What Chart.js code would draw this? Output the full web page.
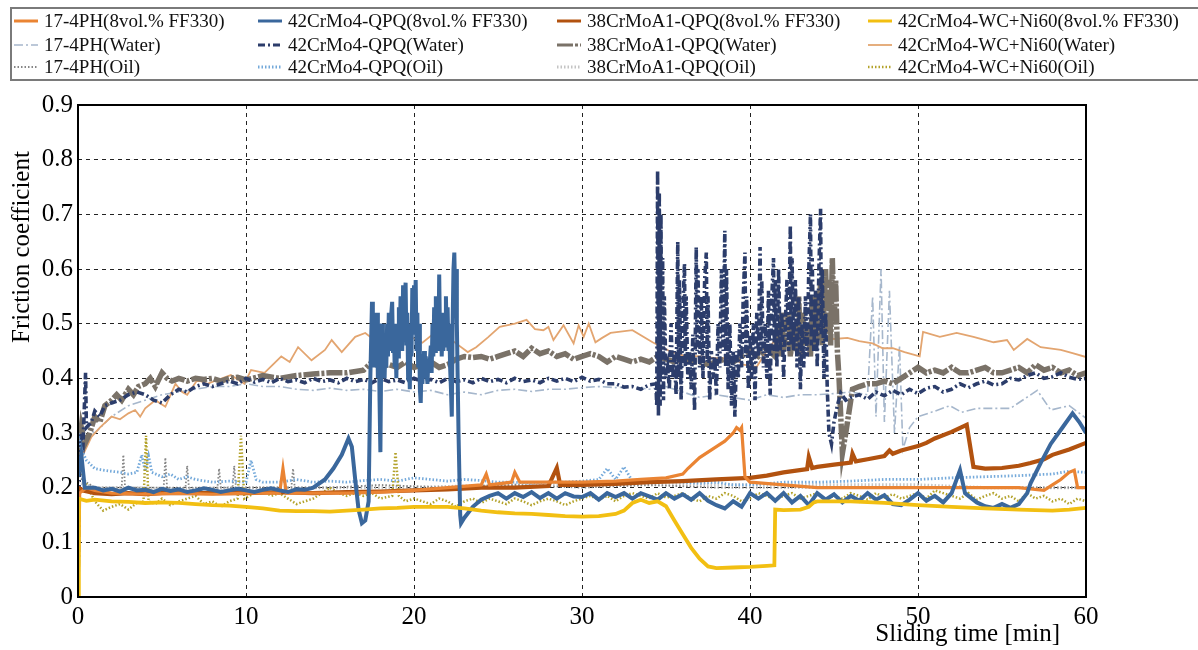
<!DOCTYPE html>
<html>
<head>
<meta charset="utf-8">
<script src="https://cdn.jsdelivr.net/npm/chart.js@4.4.1/dist/chart.umd.min.js"></script>
<style>
  html, body { margin: 0; padding: 0; background: #fff; }
  #wrap { width: 1198px; height: 650px; }
</style>
</head>
<body>
<div id="wrap"><canvas id="friction" width="1198" height="650"></canvas></div>
<script>
// Data: [sliding time (min), friction coefficient]
var ph17Ff330 = [[0,0],[0.1,0.19],[0.5,0.2],[1,0.195],[2,0.19],[4,0.188],[6,0.19],[8,0.188],[10,0.19],[12,0.19],[12.2,0.235],[12.4,0.19],[14,0.19],[16,0.19],[18,0.192],[20,0.195],[22,0.2],[24,0.205],[24.3,0.225],[24.5,0.205],[25.8,0.21],[26,0.228],[26.3,0.21],[28,0.21],[30,0.21],[32,0.212],[33.5,0.215],[35,0.218],[36,0.225],[36.3,0.235],[37,0.255],[38,0.275],[38.5,0.285],[39,0.3],[39.2,0.31],[39.4,0.305],[39.5,0.31],[39.7,0.22],[40,0.21],[42,0.205],[44,0.2],[48,0.2],[52,0.2],[56,0.2],[57.5,0.195],[58,0.205],[58.5,0.215],[59,0.228],[59.3,0.232],[59.5,0.2],[60,0.2]];
var ph17Water = [[0,0.3],[0.5,0.31],[1,0.3],[2,0.33],[3,0.35],[4,0.36],[5,0.37],[6,0.375],[7,0.38],[8,0.385],[9,0.385],[10,0.39],[11,0.385],[12,0.385],[13,0.38],[14,0.378],[15,0.382],[16,0.378],[17,0.38],[18,0.376],[19,0.38],[20,0.375],[21,0.378],[22,0.37],[23,0.375],[24,0.37],[25,0.378],[26,0.38],[27,0.376],[28,0.38],[29,0.38],[30,0.383],[31,0.385],[32,0.383],[33,0.385],[34,0.38],[35,0.385],[36,0.375],[37,0.365],[38,0.37],[39,0.365],[40,0.36],[41,0.37],[42,0.365],[43,0.37],[44,0.37],[45,0.372],[46,0.375],[47,0.37],[47.3,0.55],[47.5,0.33],[47.8,0.6],[48,0.32],[48.3,0.56],[48.6,0.3],[48.9,0.46],[49.1,0.27],[49.5,0.31],[50,0.33],[51,0.34],[51.9,0.35],[52.6,0.338],[53.5,0.345],[55.5,0.345],[57.1,0.378],[57.9,0.342],[59,0.35],[60,0.327]];
var ph17Oil = [[0,0.22],[0.5,0.21],[1,0.2],[2,0.2],[2.6,0.2],[2.7,0.26],[2.8,0.2],[4,0.2],[5.1,0.2],[5.2,0.255],[5.3,0.2],[6.4,0.2],[6.5,0.24],[6.6,0.2],[8.3,0.2],[8.4,0.235],[8.5,0.2],[9.2,0.2],[9.3,0.24],[9.4,0.2],[12.7,0.2],[12.8,0.235],[12.9,0.2],[15,0.2],[18,0.205],[22,0.2],[26,0.205],[30,0.2],[34,0.205],[38,0.2],[42,0.2],[46,0.2],[50,0.2],[54,0.2],[58,0.2],[60,0.2]];
var qpq42Ff330 = [[0,0.22],[0.2,0.26],[0.4,0.2],[1,0.2],[1.5,0.195],[2,0.198],[2.5,0.193],[3,0.2],[3.5,0.195],[4,0.196],[4.5,0.192],[5,0.198],[5.5,0.194],[6,0.197],[6.5,0.192],[7,0.195],[7.5,0.199],[8,0.196],[8.5,0.192],[9,0.195],[9.5,0.198],[10,0.195],[10.5,0.192],[11,0.196],[11.5,0.199],[12,0.195],[12.5,0.192],[13,0.197],[13.5,0.196],[14,0.2],[14.7,0.215],[15.2,0.235],[15.7,0.26],[16.1,0.29],[16.3,0.275],[16.5,0.215],[16.7,0.16],[16.9,0.135],[17.1,0.14],[17.3,0.175],[17.4,0.4],[17.5,0.54],[17.55,0.45],[17.6,0.52],[17.65,0.42],[17.7,0.51],[17.75,0.48],[17.8,0.52],[17.85,0.4],[17.9,0.5],[17.95,0.36],[18,0.265],[18.05,0.45],[18.1,0.5],[18.15,0.42],[18.2,0.48],[18.25,0.4],[18.3,0.47],[18.35,0.42],[18.4,0.5],[18.45,0.44],[18.5,0.52],[18.55,0.45],[18.6,0.5],[18.7,0.54],[18.75,0.45],[18.8,0.5],[18.85,0.42],[18.9,0.48],[18.95,0.4],[19,0.5],[19.05,0.44],[19.1,0.53],[19.15,0.46],[19.2,0.55],[19.3,0.45],[19.35,0.57],[19.4,0.5],[19.5,0.575],[19.55,0.46],[19.6,0.52],[19.65,0.4],[19.7,0.45],[19.75,0.38],[19.8,0.5],[19.85,0.44],[19.9,0.565],[19.95,0.48],[20,0.57],[20.05,0.5],[20.1,0.58],[20.15,0.45],[20.2,0.52],[20.25,0.42],[20.3,0.5],[20.35,0.38],[20.4,0.355],[20.45,0.43],[20.5,0.39],[20.6,0.45],[20.65,0.4],[20.7,0.44],[20.8,0.39],[20.85,0.43],[20.9,0.41],[21,0.46],[21.05,0.41],[21.1,0.5],[21.15,0.44],[21.2,0.53],[21.25,0.45],[21.3,0.55],[21.35,0.46],[21.4,0.52],[21.45,0.45],[21.5,0.59],[21.55,0.47],[21.6,0.52],[21.65,0.44],[21.7,0.5],[21.75,0.45],[21.8,0.52],[21.85,0.46],[21.9,0.55],[21.95,0.47],[22,0.53],[22.05,0.45],[22.1,0.5],[22.15,0.42],[22.2,0.38],[22.25,0.33],[22.3,0.5],[22.35,0.6],[22.4,0.63],[22.45,0.55],[22.5,0.6],[22.55,0.5],[22.6,0.4],[22.65,0.3],[22.75,0.15],[22.8,0.135],[23,0.145],[23.5,0.165],[24,0.178],[24.5,0.185],[25,0.19],[25.5,0.18],[26,0.19],[26.5,0.183],[27,0.192],[27.5,0.181],[28,0.19],[28.5,0.18],[29,0.19],[29.5,0.184],[30,0.183],[30.5,0.19],[31,0.178],[31.5,0.19],[32,0.183],[32.5,0.19],[33,0.18],[33.5,0.19],[34,0.184],[34.5,0.178],[35,0.19],[35.5,0.18],[36,0.188],[36.5,0.178],[37,0.19],[37.5,0.176],[38,0.168],[38.5,0.162],[39,0.175],[39.5,0.165],[40,0.19],[40.5,0.18],[41,0.19],[41.5,0.176],[42,0.19],[42.5,0.173],[43,0.185],[43.5,0.168],[44,0.19],[44.5,0.178],[45,0.188],[45.5,0.173],[46,0.185],[46.5,0.176],[47,0.19],[47.5,0.178],[48,0.186],[48.5,0.17],[49,0.168],[49.5,0.178],[50,0.19],[50.5,0.176],[51,0.185],[51.5,0.173],[52,0.19],[52.5,0.232],[52.8,0.19],[53,0.185],[53.5,0.173],[54,0.166],[54.5,0.163],[55,0.17],[55.5,0.163],[56,0.17],[56.5,0.19],[56.7,0.208],[57.3,0.245],[57.9,0.28],[58.6,0.31],[59.2,0.336],[59.6,0.32],[60,0.3]];
var qpq42Water = [[0,0],[0.1,0.3],[0.3,0.28],[0.45,0.41],[0.5,0.31],[0.8,0.32],[1,0.34],[1.3,0.33],[1.6,0.35],[2,0.355],[2.5,0.36],[3,0.37],[3.5,0.375],[4,0.37],[4.5,0.36],[5,0.355],[5.5,0.37],[6,0.38],[6.5,0.375],[7,0.385],[7.5,0.39],[8,0.385],[8.5,0.39],[9,0.395],[9.5,0.39],[10,0.4],[10.5,0.393],[11,0.398],[11.5,0.392],[12,0.4],[12.5,0.394],[13,0.397],[13.5,0.392],[14,0.4],[14.5,0.394],[15,0.397],[15.5,0.392],[16,0.4],[16.5,0.394],[17,0.398],[17.5,0.392],[18,0.4],[18.5,0.394],[19,0.397],[19.5,0.392],[20,0.4],[20.5,0.394],[21,0.398],[21.5,0.392],[22,0.4],[22.5,0.394],[23,0.397],[23.5,0.392],[24,0.4],[24.5,0.394],[25,0.398],[25.5,0.392],[26,0.4],[26.5,0.394],[27,0.397],[27.5,0.392],[28,0.4],[28.5,0.395],[29,0.4],[29.5,0.394],[30,0.402],[30.5,0.395],[31,0.398],[31.5,0.39],[32,0.39],[32.5,0.384],[33,0.385],[33.5,0.38],[34,0.388],[34.4,0.39],[34.45,0.35],[34.5,0.78],[34.55,0.33],[34.6,0.74],[34.65,0.35],[34.7,0.7],[34.75,0.4],[34.8,0.62],[34.85,0.36],[34.9,0.55],[35,0.4],[35.1,0.42],[35.2,0.38],[35.3,0.5],[35.4,0.4],[35.5,0.45],[35.6,0.37],[35.7,0.65],[35.75,0.4],[35.8,0.58],[35.9,0.36],[36,0.52],[36.1,0.61],[36.15,0.42],[36.2,0.55],[36.3,0.4],[36.4,0.45],[36.5,0.38],[36.6,0.48],[36.7,0.34],[36.8,0.64],[36.85,0.45],[36.9,0.6],[37,0.42],[37.1,0.55],[37.2,0.4],[37.3,0.58],[37.4,0.63],[37.45,0.43],[37.5,0.55],[37.6,0.36],[37.7,0.45],[37.8,0.4],[37.9,0.44],[38,0.37],[38.1,0.5],[38.2,0.42],[38.3,0.6],[38.4,0.45],[38.5,0.67],[38.55,0.42],[38.6,0.6],[38.7,0.38],[38.8,0.5],[38.9,0.35],[39,0.45],[39.1,0.33],[39.2,0.45],[39.3,0.4],[39.4,0.5],[39.5,0.42],[39.6,0.55],[39.7,0.63],[39.75,0.44],[39.8,0.55],[39.9,0.38],[40,0.48],[40.1,0.4],[40.2,0.5],[40.3,0.36],[40.4,0.52],[40.5,0.44],[40.6,0.64],[40.65,0.45],[40.7,0.58],[40.8,0.42],[40.9,0.5],[41,0.4],[41.1,0.56],[41.2,0.37],[41.3,0.55],[41.4,0.62],[41.45,0.45],[41.5,0.58],[41.6,0.42],[41.7,0.6],[41.8,0.45],[41.9,0.52],[42,0.4],[42.1,0.5],[42.2,0.58],[42.3,0.45],[42.4,0.68],[42.45,0.46],[42.5,0.62],[42.6,0.45],[42.7,0.58],[42.8,0.42],[42.9,0.55],[43,0.38],[43.1,0.5],[43.2,0.42],[43.3,0.55],[43.4,0.44],[43.5,0.6],[43.6,0.7],[43.65,0.46],[43.7,0.62],[43.8,0.45],[43.9,0.56],[44,0.42],[44.1,0.6],[44.2,0.71],[44.25,0.48],[44.3,0.6],[44.4,0.4],[44.5,0.52],[44.55,0.45],[44.6,0.38],[44.7,0.3],[44.85,0.28],[45,0.32],[45.2,0.35],[45.4,0.373],[45.7,0.36],[46,0.365],[46.5,0.37],[47,0.362],[47.5,0.375],[48,0.368],[48.5,0.378],[49,0.37],[49.5,0.38],[50,0.372],[50.5,0.382],[51,0.385],[51.5,0.375],[52,0.38],[52.5,0.39],[53,0.383],[53.5,0.39],[54,0.395],[54.5,0.388],[55,0.39],[55.5,0.4],[56,0.397],[56.5,0.405],[57,0.41],[57.5,0.4],[58,0.403],[58.5,0.41],[59,0.402],[59.5,0.398],[60,0.4]];
var qpq42Oil = [[0,0.3],[0.2,0.27],[0.5,0.25],[1,0.235],[1.5,0.232],[2,0.23],[2.5,0.228],[3,0.225],[3.5,0.228],[3.8,0.26],[4,0.23],[4.2,0.258],[4.4,0.228],[5,0.22],[5.5,0.225],[6,0.215],[6.5,0.22],[7,0.215],[8,0.21],[9,0.212],[10,0.21],[10.3,0.25],[10.6,0.215],[11,0.21],[12,0.21],[13,0.215],[14,0.21],[15,0.212],[16,0.21],[17,0.213],[18,0.215],[19,0.212],[20,0.218],[21,0.215],[22,0.212],[23,0.215],[24,0.213],[25,0.21],[26,0.21],[27,0.208],[28,0.21],[29,0.21],[30,0.212],[31,0.215],[31.5,0.235],[32,0.215],[32.5,0.238],[33,0.212],[34,0.21],[35,0.212],[36,0.21],[37,0.208],[38,0.21],[39,0.205],[40,0.205],[42,0.21],[44,0.21],[46,0.212],[48,0.215],[50,0.215],[52,0.218],[54,0.22],[56,0.222],[58,0.225],[59,0.23],[60,0.228]];
var crmo38Ff330 = [[0,0.2],[0.3,0.195],[1,0.19],[2,0.188],[3,0.19],[4,0.188],[5,0.19],[6,0.19],[8,0.19],[10,0.19],[12,0.192],[14,0.19],[16,0.192],[18,0.193],[20,0.195],[22,0.197],[24,0.2],[26,0.2],[28,0.203],[28.5,0.236],[28.7,0.205],[30,0.205],[32,0.207],[34,0.21],[36,0.212],[38,0.215],[40,0.218],[41,0.222],[42,0.228],[43.4,0.234],[43.5,0.256],[43.7,0.236],[44,0.238],[45,0.242],[46,0.246],[46.1,0.262],[46.3,0.248],[47,0.252],[48,0.258],[48.3,0.268],[48.5,0.262],[49,0.268],[50,0.276],[50.5,0.282],[51,0.29],[52,0.302],[52.9,0.315],[53.3,0.238],[54,0.235],[55,0.236],[56,0.24],[56.7,0.245],[57.5,0.252],[58,0.26],[59,0.27],[60,0.282]];
var crmo38Water = [[0,0.25],[0.2,0.31],[0.4,0.28],[0.7,0.3],[1,0.33],[1.3,0.32],[1.6,0.35],[2,0.36],[2.3,0.37],[2.6,0.36],[3,0.38],[3.3,0.37],[3.6,0.385],[4,0.39],[4.3,0.4],[4.6,0.385],[5,0.41],[5.3,0.4],[5.6,0.395],[6,0.4],[6.5,0.395],[7,0.4],[7.5,0.398],[8,0.4],[8.5,0.395],[9,0.4],[9.5,0.402],[10,0.397],[11,0.405],[12,0.4],[13,0.405],[14,0.408],[15,0.41],[16,0.41],[17,0.415],[17.5,0.43],[18,0.42],[18.5,0.425],[19,0.42],[19.5,0.43],[20,0.42],[20.5,0.425],[21,0.43],[21.5,0.42],[22,0.425],[22.5,0.435],[23,0.44],[23.5,0.438],[24,0.44],[24.5,0.435],[25,0.44],[25.5,0.445],[26,0.45],[26.5,0.44],[27,0.455],[27.5,0.445],[28,0.45],[28.5,0.44],[29,0.445],[29.5,0.435],[30,0.44],[30.5,0.445],[31,0.44],[31.5,0.43],[32,0.44],[32.5,0.435],[33,0.43],[33.5,0.435],[34,0.43],[34.5,0.44],[35,0.435],[35.5,0.43],[36,0.435],[36.5,0.43],[37,0.43],[37.5,0.425],[38,0.43],[38.5,0.435],[39,0.43],[39.5,0.44],[40,0.45],[40.5,0.44],[41,0.455],[41.5,0.44],[41.7,0.5],[41.8,0.44],[41.9,0.52],[42,0.45],[42.1,0.48],[42.3,0.52],[42.4,0.44],[42.6,0.5],[42.7,0.45],[42.9,0.55],[43,0.44],[43.1,0.52],[43.3,0.46],[43.4,0.5],[43.6,0.44],[43.7,0.55],[43.8,0.46],[44,0.56],[44.1,0.47],[44.2,0.58],[44.3,0.46],[44.5,0.6],[44.6,0.48],[44.7,0.58],[44.8,0.46],[44.9,0.62],[45,0.5],[45.1,0.58],[45.2,0.45],[45.3,0.4],[45.5,0.263],[45.7,0.3],[46.1,0.38],[46.5,0.385],[47,0.39],[47.5,0.39],[48,0.395],[48.5,0.39],[49,0.4],[49.5,0.41],[50,0.42],[50.5,0.41],[51,0.415],[51.5,0.41],[52,0.42],[52.5,0.41],[53,0.41],[53.5,0.415],[54,0.42],[54.5,0.41],[55,0.41],[55.5,0.415],[56,0.42],[56.5,0.41],[57,0.425],[57.5,0.415],[58,0.42],[58.5,0.41],[59,0.415],[59.5,0.405],[60,0.41]];
var crmo38Oil = [[0,0.21],[1,0.2],[3,0.2],[6,0.198],[10,0.2],[14,0.2],[18,0.2],[22,0.202],[26,0.205],[30,0.205],[34,0.205],[38,0.205],[42,0.205],[46,0.205],[50,0.205],[54,0.2],[58,0.2],[60,0.2]];
var wcNiFf330 = [[0,0],[0.05,0.18],[0.5,0.176],[1,0.178],[2,0.175],[3,0.174],[4,0.172],[5,0.173],[6,0.172],[7,0.17],[8,0.168],[9,0.167],[10,0.165],[11,0.162],[12,0.158],[13,0.157],[14,0.157],[15,0.156],[16,0.158],[17,0.16],[18,0.162],[19,0.163],[20,0.165],[21,0.165],[22,0.165],[23,0.162],[24,0.158],[25,0.155],[26,0.153],[27,0.152],[28,0.15],[29,0.148],[30,0.147],[31,0.148],[32,0.152],[32.5,0.158],[33,0.172],[33.5,0.178],[34,0.172],[34.5,0.175],[35,0.166],[35.5,0.14],[36,0.115],[36.5,0.09],[37,0.07],[37.5,0.056],[38,0.053],[39,0.054],[40,0.055],[41,0.057],[41.45,0.058],[41.5,0.16],[42,0.159],[43,0.16],[43.5,0.165],[43.8,0.173],[44,0.175],[46,0.175],[48,0.172],[50,0.168],[52,0.165],[54,0.162],[56,0.16],[58,0.158],[59,0.16],[60,0.163]];
var wcNiWater = [[0,0.25],[0.3,0.26],[0.8,0.293],[1.3,0.31],[2,0.33],[2.5,0.325],[3,0.336],[3.4,0.342],[3.7,0.33],[4,0.345],[4.6,0.36],[5.2,0.348],[5.8,0.39],[6.2,0.375],[6.5,0.37],[7.1,0.397],[7.7,0.39],[8.3,0.397],[9.1,0.406],[9.9,0.39],[10.3,0.415],[11.1,0.41],[11.6,0.425],[12.1,0.44],[12.6,0.43],[13.1,0.457],[13.9,0.433],[14.7,0.452],[15.1,0.47],[15.7,0.448],[16.5,0.476],[17.1,0.483],[17.9,0.464],[18.9,0.48],[19.8,0.476],[20.5,0.465],[21.1,0.48],[21.7,0.483],[22.5,0.464],[23.2,0.448],[23.7,0.457],[24.4,0.475],[25.1,0.494],[26,0.5],[26.7,0.507],[27.2,0.49],[27.7,0.488],[28,0.494],[28.3,0.47],[28.9,0.497],[29.5,0.464],[29.8,0.497],[30.1,0.476],[30.4,0.5],[30.8,0.466],[31.2,0.474],[31.7,0.483],[33,0.488],[34.2,0.466],[35.2,0.45],[36,0.442],[37,0.44],[38,0.437],[39,0.437],[39.6,0.425],[40.4,0.421],[41,0.45],[41.8,0.483],[43,0.47],[44,0.479],[45,0.472],[45.8,0.474],[46.5,0.468],[47.3,0.464],[47.9,0.455],[48.5,0.455],[49.2,0.448],[50.1,0.44],[50.3,0.485],[51.3,0.476],[52.3,0.483],[53.3,0.476],[54.5,0.466],[55.3,0.47],[55.7,0.452],[56.5,0.472],[57.3,0.457],[58.5,0.452],[59.2,0.446],[60,0.439]];
var wcNiOil = [[0,0.25],[0.3,0.22],[0.6,0.2],[1,0.175],[1.5,0.158],[2,0.165],[2.5,0.17],[3,0.16],[3.5,0.172],[3.9,0.175],[4.05,0.295],[4.2,0.175],[4.6,0.17],[5,0.18],[5.5,0.168],[6,0.175],[6.5,0.18],[7,0.185],[7.5,0.17],[8,0.175],[8.5,0.165],[9,0.175],[9.5,0.18],[9.7,0.295],[9.9,0.18],[10.5,0.19],[11,0.195],[11.5,0.185],[12,0.19],[12.5,0.18],[13,0.17],[13.5,0.175],[14,0.18],[14.5,0.19],[15,0.2],[15.5,0.19],[16,0.185],[16.5,0.19],[17,0.185],[17.5,0.19],[18,0.18],[18.7,0.185],[18.9,0.265],[19.1,0.185],[19.5,0.175],[20,0.18],[20.5,0.175],[21,0.17],[21.5,0.18],[22,0.175],[22.5,0.165],[23,0.175],[23.5,0.18],[24,0.172],[24.5,0.18],[25,0.175],[25.5,0.17],[26,0.18],[26.5,0.175],[27,0.168],[27.5,0.175],[28,0.18],[28.5,0.175],[29,0.168],[29.5,0.175],[30,0.18],[30.5,0.185],[31,0.178],[31.5,0.185],[32,0.175],[32.5,0.185],[33,0.19],[33.5,0.185],[34,0.18],[34.5,0.19],[35,0.182],[35.5,0.185],[36,0.19],[36.5,0.18],[37,0.175],[37.5,0.185],[38,0.18],[38.5,0.19],[39,0.185],[39.5,0.175],[40,0.18],[40.5,0.19],[41,0.185],[41.5,0.178],[42,0.185],[42.5,0.19],[43,0.18],[43.5,0.185],[44,0.19],[44.5,0.178],[45,0.185],[45.5,0.18],[46,0.19],[46.5,0.185],[47,0.178],[47.5,0.19],[48,0.182],[48.5,0.188],[49,0.18],[49.5,0.185],[50,0.19],[50.5,0.18],[51,0.195],[51.5,0.19],[52,0.185],[52.5,0.18],[53,0.19],[53.5,0.178],[54,0.185],[54.5,0.19],[55,0.18],[55.5,0.185],[56,0.175],[56.5,0.19],[57,0.18],[57.5,0.185],[58,0.175],[58.5,0.18],[59,0.17],[59.5,0.18],[60,0.175]];

var yTickLabels = ['0', '0.1', '0.2', '0.3', '0.4', '0.5', '0.6', '0.7', '0.8', '0.9'];
var xTickLabels = ['0', '10', '20', '30', '40', '50', '60'];

var serif = '"Liberation Serif", "DejaVu Serif", serif';
var WATER = [9, 3, 2, 3];
var OIL = [1.5, 2];

function pts(arr) {
    return arr.map(function(p) { return { x: p[0], y: p[1] }; });
}

function line(label, arr, color, width, dash, order) {
    return {
        label: label,
        data: pts(arr),
        borderColor: color,
        backgroundColor: color,
        borderWidth: width,
        borderDash: dash,
        pointRadius: 0,
        tension: 0,
        fill: false,
        order: order
    };
}

// legend order: column = material, row = medium
var datasets = [
    line('17-4PH(8vol.% FF330)', ph17Ff330, '#ea8433', 3.2, [], 3),
    line('17-4PH(Water)', ph17Water, '#a6b7cc', 1.6, WATER, 12),
    line('17-4PH(Oil)', ph17Oil, '#858585', 1.8, OIL, 7),
    line('42CrMo4-QPQ(8vol.% FF330)', qpq42Ff330, '#3a679c', 4, [], 2),
    line('42CrMo4-QPQ(Water)', qpq42Water, '#2c3d6b', 3.6, [7, 3, 2, 3], 9),
    line('42CrMo4-QPQ(Oil)', qpq42Oil, '#74a9da', 2.8, OIL, 6),
    line('38CrMoA1-QPQ(8vol.% FF330)', crmo38Ff330, '#b2520f', 4.2, [], 4),
    line('38CrMoA1-QPQ(Water)', crmo38Water, '#7a7268', 5.5, [16, 2, 3, 2], 10),
    line('38CrMoA1-QPQ(Oil)', crmo38Oil, '#c4c4c4', 3.2, OIL, 8),
    line('42CrMo4-WC+Ni60(8vol.% FF330)', wcNiFf330, '#f2bf12', 3.8, [], 1),
    line('42CrMo4-WC+Ni60(Water)', wcNiWater, '#e3a570', 1.8, [], 11),
    line('42CrMo4-WC+Ni60(Oil)', wcNiOil, '#b3a22a', 2.5, OIL, 5)
];

var frameAndLegend = {
    id: 'frameAndLegend',
    afterDraw: function(chart) {
        var ctx = chart.ctx;
        var a = chart.chartArea;
        ctx.save();

        // plot frame
        ctx.strokeStyle = '#000';
        ctx.lineWidth = 2;
        ctx.setLineDash([]);
        ctx.strokeRect(a.left, a.top, a.right - a.left, a.bottom - a.top);

        // axis titles
        ctx.fillStyle = '#000';
        ctx.font = '25px ' + serif;
        ctx.textAlign = 'right';
        ctx.textBaseline = 'middle';
        ctx.fillText('Sliding time [min]', 1060, 634);
        ctx.translate(22, 247);
        ctx.rotate(-Math.PI / 2);
        ctx.textAlign = 'center';
        ctx.fillText('Friction coefficient', 0, 0);
        ctx.restore();

        // legend box
        ctx.save();
        ctx.strokeStyle = '#7a7a7a';
        ctx.lineWidth = 2;
        ctx.strokeRect(11, 8, 1200, 72);
        var colX = [14, 258, 557, 868];
        var rowY = [21, 45, 67];
        ctx.font = '19px ' + serif;
        ctx.textBaseline = 'middle';
        ctx.textAlign = 'left';
        chart.data.datasets.forEach(function(ds, i) {
            var x = colX[Math.floor(i / 3)];
            var y = rowY[i % 3];
            ctx.strokeStyle = ds.borderColor;
            ctx.lineWidth = Math.min(ds.borderWidth, 3);
            ctx.setLineDash(ds.borderDash);
            ctx.beginPath();
            ctx.moveTo(x, y);
            ctx.lineTo(x + 24, y);
            ctx.stroke();
            ctx.setLineDash([]);
            ctx.fillStyle = '#111';
            ctx.fillText(ds.label, x + 30, y + 1);
        });
        ctx.restore();
    }
};

var chart = new Chart(document.getElementById('friction').getContext('2d'), {
    type: 'line',
    data: { datasets: datasets },
    options: {
        responsive: false,
        animation: false,
        layout: { padding: { left: 0, right: 112, top: 105, bottom: 0 } },
        plugins: { legend: { display: false }, tooltip: { enabled: false } },
        scales: {
            x: {
                type: 'linear',
                min: 0,
                max: 60,
                afterFit: function(scale) { scale.height = 53; },
                ticks: {
                    stepSize: 10,
                    padding: 5,
                    color: '#000',
                    font: { family: serif, size: 25 },
                    callback: function(v, i) { return xTickLabels[i]; }
                },
                grid: { color: '#222', lineWidth: 1, drawTicks: false },
                border: { display: false, dash: [4, 4] }
            },
            y: {
                min: 0,
                max: 0.9,
                afterFit: function(scale) { scale.width = 78; },
                ticks: {
                    stepSize: 0.1,
                    padding: 5,
                    color: '#000',
                    font: { family: serif, size: 25 },
                    callback: function(v, i) { return yTickLabels[i]; }
                },
                grid: { color: '#222', lineWidth: 1, drawTicks: false },
                border: { display: false, dash: [4, 4] }
            }
        }
    },
    plugins: [frameAndLegend]
});
</script>
</body>
</html>
